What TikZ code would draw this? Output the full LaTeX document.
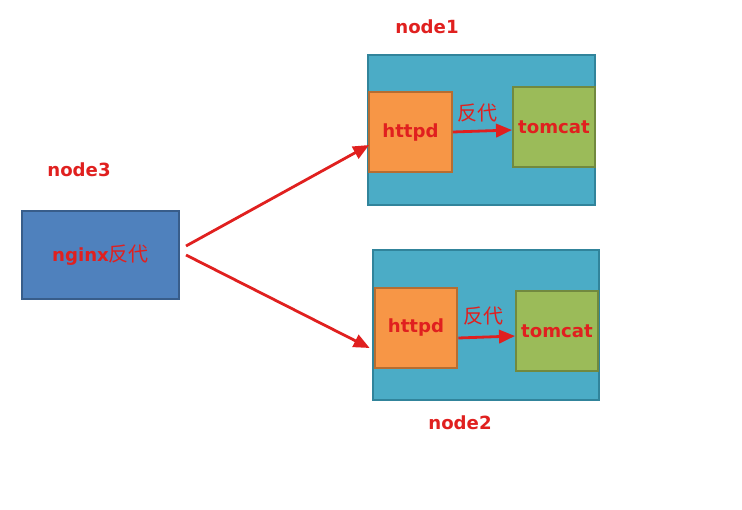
\documentclass[tikz,border=0pt]{standalone}
\usepackage{fontspec}
\setmainfont{DejaVu Sans}
\newfontfamily\cjk{Noto Sans CJK SC}
\usetikzlibrary{arrows.meta}

\definecolor{hostfill}{HTML}{4BACC6}
\definecolor{hostline}{HTML}{31849B}
\definecolor{httpdfill}{HTML}{F79646}
\definecolor{httpdline}{HTML}{B66D31}
\definecolor{tomcatfill}{HTML}{9BBB59}
\definecolor{tomcatline}{HTML}{71893F}
\definecolor{nginxfill}{HTML}{4F81BD}
\definecolor{nginxline}{HTML}{385D8A}
\definecolor{labelred}{HTML}{E0201F}

\tikzset{
  hostbox/.style={draw=hostline, fill=hostfill, line width=1.5pt, minimum width=170pt, minimum height=112.5pt},
  httpdbox/.style={draw=httpdline, fill=httpdfill, line width=1.5pt, minimum width=62pt, minimum height=60pt, text=labelred, font=\fontsize{13.6}{15}\selectfont\bfseries},
  tomcatbox/.style={draw=tomcatline, fill=tomcatfill, line width=1.5pt, minimum width=61.5pt, minimum height=60pt, text=labelred, font=\fontsize{13.6}{15}\selectfont\bfseries},
  hostlabel/.style={text=labelred, font=\fontsize{13.6}{15}\selectfont\bfseries},
  proxylabel/.style={text=labelred, font=\fontsize{15}{17}\selectfont\cjk},
  redarrow/.style={draw=labelred, line width=2.1pt, -{Triangle[length=12pt,width=10pt]}}
}

\begin{document}
\begin{tikzpicture}[x=0.75pt,y=-0.75pt]
\useasboundingbox (0,0) rectangle (742,510);

\node[hostlabel] (label1) at (427,27) {node1};
\node[hostbox] (host1) at (481.5,130) {};
\node[httpdbox] (httpd1) at (410.5,132) {httpd};
\node[tomcatbox] (tomcat1) at (554,127) {tomcat};
\node[proxylabel] (proxy1) at (477,113) {反代};

\node[hostlabel] (label3) at (79,170) {node3};
\node[draw=nginxline, fill=nginxfill, line width=1.5pt, minimum width=117.75pt, minimum height=66pt, text=labelred, font=\fontsize{13.6}{15}\selectfont\bfseries] (nginx) at (100.5,255) {nginx{\cjk\fontsize{15}{17}\selectfont\mdseries 反代}};

\node[hostbox] (host2) at (486,325) {};
\node[httpdbox] (httpd2) at (416,327.5) {httpd};
\node[tomcatbox] (tomcat2) at (557,331) {tomcat};
\node[proxylabel] (proxy2) at (483,316) {反代};
\node[hostlabel] (label2) at (460,423) {node2};

\draw[redarrow] ([shift={(6,-9)}]nginx.east) -- ([shift={(1,13)}]httpd1.west);
\draw[redarrow] ([shift={(6,0)}]nginx.east) -- ([shift={(-4,20.5)}]httpd2.west);
\draw[redarrow] ([shift={(0,0)}]httpd1.east) -- ([shift={(0,3)}]tomcat1.west);
\draw[redarrow] ([shift={(0,10.5)}]httpd2.east) -- ([shift={(0,5)}]tomcat2.west);
\end{tikzpicture}
\end{document}
